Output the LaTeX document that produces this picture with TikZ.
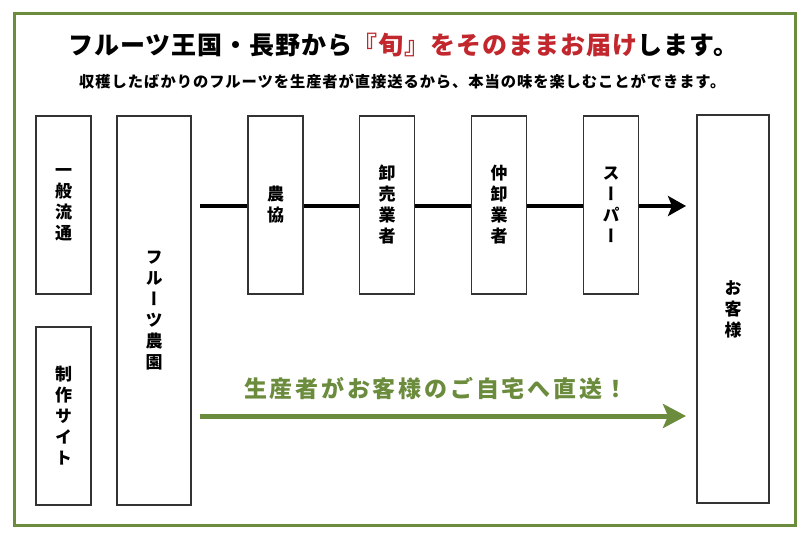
\documentclass[tikz,border=0pt]{standalone}
\usepackage{fontspec}
\setmainfont{Noto Sans CJK JP}
\newfontfamily\tatefont[RawFeature=+vert]{Noto Sans CJK JP}
\usetikzlibrary{arrows.meta,positioning}

\definecolor{framegreen}{HTML}{6B8B3D}
\definecolor{titlered}{HTML}{C1272D}
\definecolor{boxgray}{HTML}{333333}

\tikzset{
  flowbox/.style={draw=boxgray, line width=1.6pt, fill=white, inner sep=0pt,
    minimum width=55pt, minimum height=178pt, align=center,
    font=\tatefont\bfseries\fontsize{17}{21}\selectfont},
  flowline/.style={line width=3.6pt, black},
  directline/.style={line width=5pt, framegreen}
}

\begin{document}
\begin{tikzpicture}[x=1pt,y=-1pt]
\useasboundingbox (0,0) rectangle (810,540);
% frame
\draw [framegreen, line width=3pt] (14,14) rectangle (795,525);
% heading
\node [anchor=west, inner sep=0pt] (title) at (68,45) {\bfseries\fontsize{25}{29}\selectfont
  \addfontfeature{LetterSpace=4}フルーツ王国・長野から\textcolor{titlered}{『旬』をそのままお届け}します。};
\node [anchor=west, inner sep=0pt] (lead) at (79,82) {\bfseries\fontsize{15.3}{18}\selectfont
  \addfontfeature{LetterSpace=6}収穫したばかりのフルーツを生産者が直接送るから、本当の味を楽しむことができます。};
% boxes
\node [flowbox] (ippan) at (63.5,205) {一\\般\\流\\通};
\node [flowbox] (seisaku) at (63.5,416) {制\\作\\サ\\イ\\ト};
\node [flowbox, minimum width=74pt, minimum height=389pt] (nouen) at (154,310.5) {フ\\ル\\ー\\ツ\\農\\園};
\node [flowbox] (noukyo) at (275.5,205) {農\\協};
\node [flowbox] (oroshi) at (387,205) {卸\\売\\業\\者};
\node [flowbox] (nakaoroshi) at (499,205) {仲\\卸\\業\\者};
\node [flowbox] (super) at (611,205) {ス\\ー\\パ\\ー};
\node [flowbox, minimum width=72pt, minimum height=388pt] (kyaku) at (733,309) {お\\客\\様};
% general route
\coordinate (routestart) at (200,206);
\coordinate (routeend) at (686,206);
\draw [flowline] (routestart) -- (noukyo.west |- routestart);
\draw [flowline] (noukyo.east |- routestart) -- (oroshi.west |- routestart);
\draw [flowline] (oroshi.east |- routestart) -- (nakaoroshi.west |- routestart);
\draw [flowline] (nakaoroshi.east |- routestart) -- (super.west |- routestart);
\draw [flowline, -{Stealth[length=18pt,width=20pt,inset=4pt]}] (super.east |- routestart) -- (routeend);
% direct route
\coordinate (directstart) at (200,416);
\coordinate (directend) at (686,416);
\draw [directline, -{Stealth[length=23pt,width=24pt,inset=5pt]}] (directstart) -- (directend);
\node [anchor=west, inner sep=0pt, text=framegreen, font=\bfseries\fontsize{23}{27}\selectfont] (directlabel) at (244,389)
  {\addfontfeature{LetterSpace=12}生産者がお客様のご自宅へ直送！};
\end{tikzpicture}
\end{document}
